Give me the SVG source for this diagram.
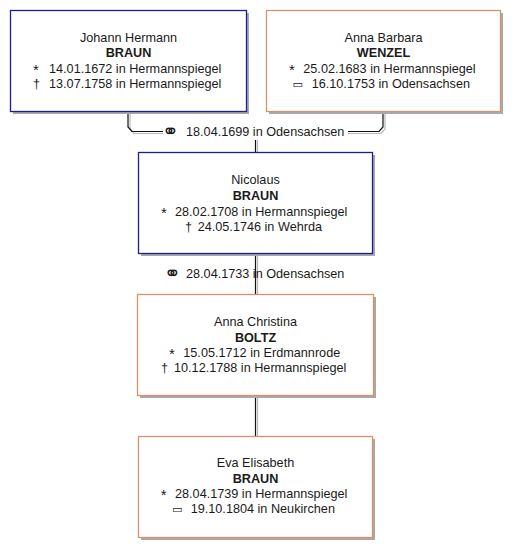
<svg xmlns="http://www.w3.org/2000/svg" width="520" height="558" viewBox="0 0 520 558">
<style>
.bg{fill:#ffffff}
.sh{fill:#a9a9a9}
.m{fill:#ffffff;stroke:#1c1c9c;stroke-width:1.3}
.f{fill:#ffffff;stroke:#d9916b;stroke-width:1.3}
text{font-family:"Liberation Sans",Arial,sans-serif;font-size:12.67px;fill:#1a1a1a}
.c{text-anchor:middle}
.b{font-weight:bold}
.sym{font-family:"DejaVu Sans","Liberation Sans",sans-serif;font-size:11px}
.mar{font-family:"DejaVu Sans",sans-serif;font-size:20px}
.ast{font-size:15px}
.ln{fill:none;stroke:#111;stroke-width:1.2}
.lsh{fill:none;stroke:#b8b8b8;stroke-width:1.2}
</style>
<rect class="bg" x="0" y="0" width="520" height="558"/>
<g id="connectors">
  <path class="lsh" d="M130,114 V129 L134,133.5 H163"/>
  <path class="ln" d="M128,112 V127 L132,131.5 H163"/>
  <path class="lsh" d="M385,114 V129 L381,133.5 H348"/>
  <path class="ln" d="M383,112 V127 L379,131.5 H348"/>
  <path class="lsh" d="M257.5,140 V152"/>
  <path class="ln" d="M255.5,140 V152"/>
  <path class="lsh" d="M257.5,254 V294"/>
  <path class="ln" d="M255.5,254 V294"/>
  <path class="lsh" d="M257.5,396 V436"/>
  <path class="ln" d="M255.5,396 V436"/>
  <text class="mar" x="162" y="138">⚭</text>
  <text x="186" y="136">18.04.1699 in Odensachsen</text>
  <text class="mar" x="164" y="280">⚭</text>
  <text x="186" y="278">28.04.1733 in Odensachsen</text>
</g>
<g id="p1">
  <rect class="sh" x="13" y="13" width="236" height="101"/>
  <rect class="m" x="10.5" y="10.5" width="236" height="101"/>
  <text class="c" x="128.5" y="42">Johann Hermann</text>
  <text class="c b" x="128.5" y="57">BRAUN</text>
  <text class="ast" x="33" y="75">*</text>
  <text x="49" y="73">14.01.1672 in Hermannspiegel</text>
  <text x="33" y="88">†</text>
  <text x="49" y="88">13.07.1758 in Hermannspiegel</text>
</g>
<g id="p2">
  <rect class="sh" x="269" y="13" width="234" height="101"/>
  <rect class="f" x="266.5" y="10.5" width="234" height="101"/>
  <text class="c" x="383.5" y="42">Anna Barbara</text>
  <text class="c b" x="383.5" y="57">WENZEL</text>
  <text class="ast" x="289" y="75">*</text>
  <text x="303.3" y="73">25.02.1683 in Hermannspiegel</text>
  <text class="sym" x="292.5" y="88">▭</text>
  <text x="311.7" y="88">16.10.1753 in Odensachsen</text>
</g>
<g id="p3">
  <rect class="sh" x="141" y="155" width="234" height="101"/>
  <rect class="m" x="138.5" y="152.5" width="234" height="101"/>
  <text class="c" x="255.5" y="184">Nicolaus</text>
  <text class="c b" x="255.5" y="200">BRAUN</text>
  <text class="ast" x="161" y="217.7">*</text>
  <text x="175" y="215.7">28.02.1708 in Hermannspiegel</text>
  <text x="185" y="230.7">†</text>
  <text x="197.7" y="230.7">24.05.1746 in Wehrda</text>
</g>
<g id="p4">
  <rect class="sh" x="140" y="297" width="236" height="101"/>
  <rect class="f" x="137.5" y="294.5" width="236" height="101"/>
  <text class="c" x="255.5" y="325.7">Anna Christina</text>
  <text class="c b" x="255.5" y="341.5">BOLTZ</text>
  <text class="ast" x="169" y="359.3">*</text>
  <text x="183.3" y="357.3">15.05.1712 in Erdmannrode</text>
  <text x="161" y="372.3">†</text>
  <text x="174" y="372.3">10.12.1788 in Hermannspiegel</text>
</g>
<g id="p5">
  <rect class="sh" x="141" y="439" width="234" height="101"/>
  <rect class="f" x="138.5" y="436.5" width="234" height="101"/>
  <text class="c" x="255.5" y="467">Eva Elisabeth</text>
  <text class="c b" x="255.5" y="483">BRAUN</text>
  <text class="ast" x="160.7" y="500.3">*</text>
  <text x="175" y="498.3">28.04.1739 in Hermannspiegel</text>
  <text class="sym" x="172" y="513.3">▭</text>
  <text x="190.7" y="513.3">19.10.1804 in Neukirchen</text>
</g>
</svg>
